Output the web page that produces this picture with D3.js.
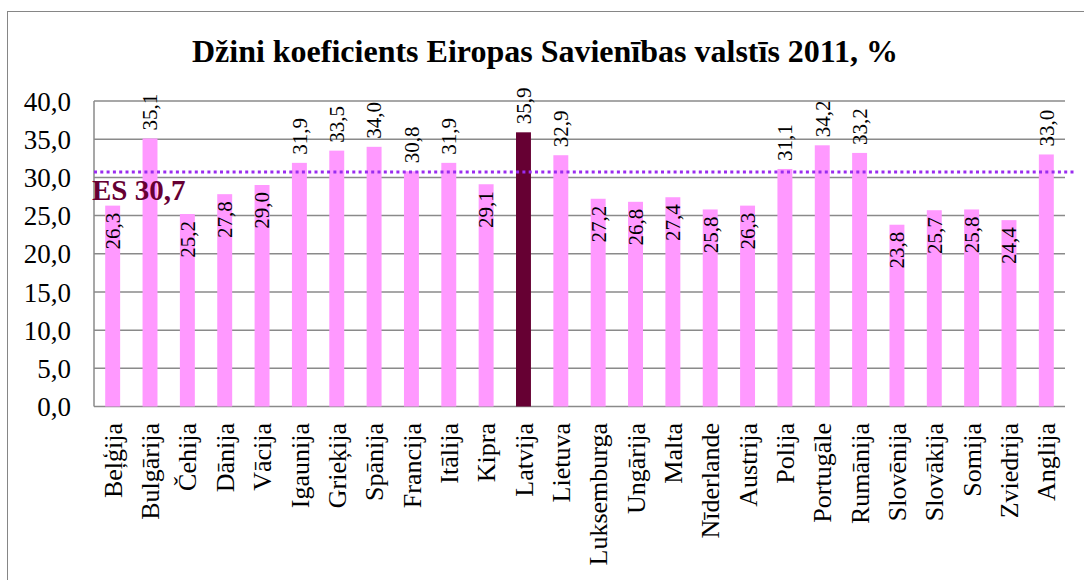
<!DOCTYPE html>
<html>
<head>
<meta charset="utf-8">
<script src="https://cdn.jsdelivr.net/npm/d3@7"></script>
<style>
  body { margin: 0; background: #fff; }
  text { font-family: "Liberation Serif", "Times New Roman", serif; }
</style>
</head>
<body>
<svg id="chart" width="1084" height="580"></svg>
<script>
// dati no attēla
var countries = ["Beļģija","Bulgārija","Čehija","Dānija","Vācija","Igaunija","Grieķija","Spānija",
  "Francija","Itālija","Kipra","Latvija","Lietuva","Luksemburga","Ungārija","Malta","Nīderlande",
  "Austrija","Polija","Portugāle","Rumānija","Slovēnija","Slovākija","Somija","Zviedrija","Anglija"];
var values = [26.3,35.1,25.2,27.8,29.0,31.9,33.5,34.0,30.8,31.9,29.1,35.9,32.9,27.2,26.8,27.4,25.8,
  26.3,31.1,34.2,33.2,23.8,25.7,25.8,24.4,33.0];
var esAverage = 30.7;
var highlight = "Latvija";
var yTicks = [0,5,10,15,20,25,30,35,40];
var title = "Džini koeficients Eiropas Savienības valstīs 2011, %";

var svg = d3.select("#chart");
var fmt = function (v) { return d3.format(".1f")(v).replace(".", ","); };

// "top" ir aizņemts ar window.top, tāpēc citi nosaukumi
var plotLeft = 94, plotRight = 1065, plotTop = 101, plotBottom = 406.5;

var x = d3.scaleBand()
    .domain(countries)
    .range([plotLeft, plotRight])
    .paddingInner(0.6)
    .paddingOuter(0.3);

var y = d3.scaleLinear()
    .domain([0, 40])
    .range([plotBottom, plotTop]);

// ārējais rāmis
svg.append("rect")
    .attr("x", 7.5).attr("y", 11.5)
    .attr("width", 1100).attr("height", 600)
    .attr("fill", "none")
    .attr("stroke", "#868686")
    .attr("stroke-width", 1);

svg.append("text")
    .attr("x", 545).attr("y", 62)
    .attr("text-anchor", "middle")
    .attr("font-size", 32)
    .attr("font-weight", "bold")
    .text(title);

// režģis
svg.append("g")
    .selectAll("line")
    .data(yTicks)
    .enter()
    .append("line")
        .attr("x1", plotLeft).attr("x2", plotRight)
        .attr("y1", function (d) { return y(d); })
        .attr("y2", function (d) { return y(d); })
        .attr("stroke", "#8a8a8a")
        .attr("stroke-width", 1.5);

svg.append("line")
    .attr("x1", plotLeft).attr("x2", plotLeft)
    .attr("y1", plotTop).attr("y2", plotBottom)
    .attr("stroke", "#8a8a8a")
    .attr("stroke-width", 1.5);

// y ass
var yAxis = svg.append("g")
    .attr("transform", "translate(" + (plotLeft - 23) + ",0)")
    .call(d3.axisLeft(y).tickValues(yTicks).tickSize(0).tickPadding(0).tickFormat(fmt));
yAxis.select(".domain").remove();
yAxis.selectAll("text")
    .attr("font-size", 27)
    .attr("fill", "#000")
    .attr("dy", "0.34em")
    .style("font-family", "'Liberation Serif', 'Times New Roman', serif");

// stabiņi
svg.append("g")
    .selectAll("rect")
    .data(countries)
    .enter()
    .append("rect")
        .attr("x", function (d) { return x(d); })
        .attr("width", x.bandwidth())
        .attr("y", function (d, i) { return y(values[i]); })
        .attr("height", function (d, i) { return y(0) - y(values[i]); })
        .attr("fill", function (d) { return d == highlight ? "#660033" : "#ff99ff"; });

// vērtību etiķetes
svg.append("g")
    .selectAll("text")
    .data(countries)
    .enter()
    .append("text")
        .attr("transform", function (d, i) {
            var cx = x(d) + x.bandwidth() / 2;
            var above = values[i] > esAverage;
            var ty = above ? y(values[i]) - 8 : y(values[i]) + 7;
            return "translate(" + cx + "," + ty + ") rotate(-90)";
        })
        .attr("text-anchor", function (d, i) { return values[i] > esAverage ? "start" : "end"; })
        .attr("dy", "0.35em")
        .attr("font-size", 21)
        .text(function (d, i) { return fmt(values[i]); });

// ES vidējais
svg.append("line")
    .attr("x1", plotLeft).attr("x2", 1076)
    .attr("y1", y(esAverage)).attr("y2", y(esAverage))
    .attr("stroke", "#9a2cf0")
    .attr("stroke-width", 3)
    .attr("stroke-dasharray", "3,3.3");

svg.append("text")
    .attr("x", 92).attr("y", 200)
    .attr("font-size", 29)
    .attr("font-weight", "bold")
    .attr("fill", "#660033")
    .text("ES " + fmt(esAverage));

// x ass etiķetes
svg.append("g")
    .selectAll("text")
    .data(countries)
    .enter()
    .append("text")
        .attr("transform", function (d) {
            return "translate(" + (x(d) + x.bandwidth() / 2) + ",423) rotate(-90)";
        })
        .attr("text-anchor", "end")
        .attr("dy", "0.35em")
        .attr("font-size", 26)
        .text(function (d) { return d; });
</script>
</body>
</html>
